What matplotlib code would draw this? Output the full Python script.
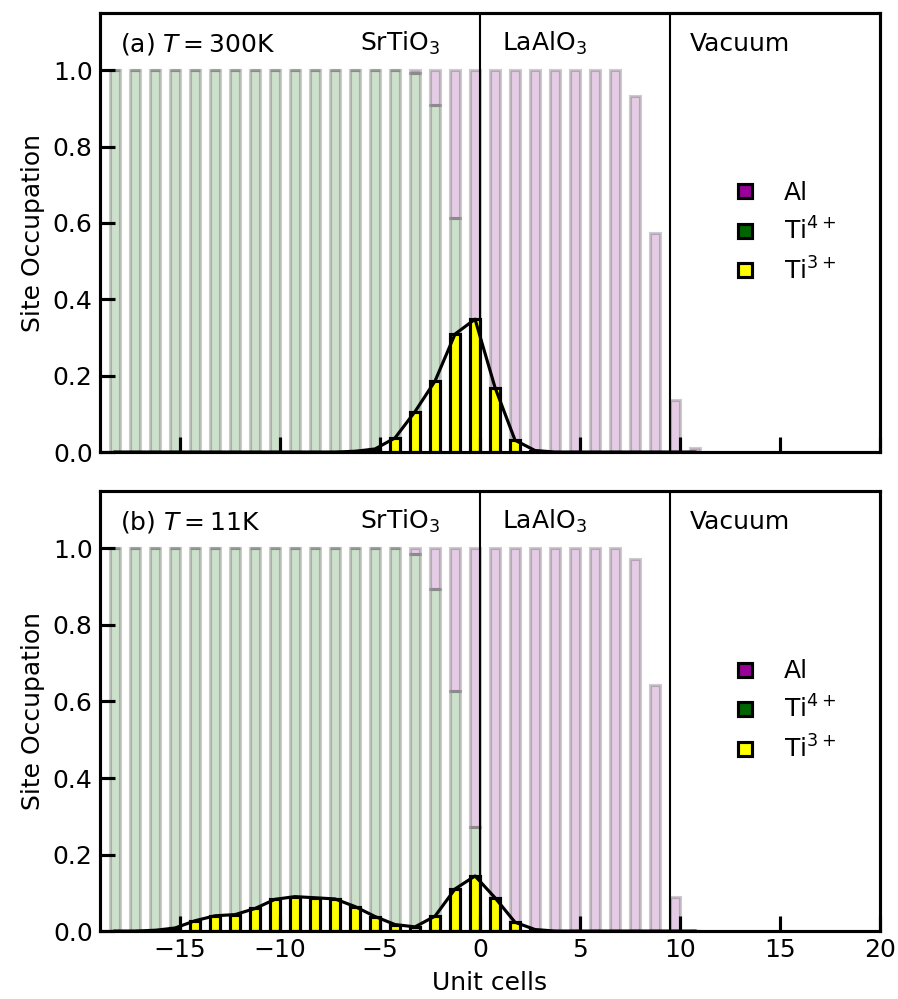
import numpy as np
import matplotlib.pyplot as plt

# unit cell index, bars are drawn at i - 0.25
cells = np.arange(-18, 12)

# (a) T = 300K
ti_a = [1.0]*15 + [0.992, 0.908, 0.613, 0.226, 0.037] + [0.0]*10
tot_a = [1.0]*26 + [0.932, 0.575, 0.136, 0.01]
ti3_a = [0.0]*12 + [0.002, 0.008, 0.037, 0.106, 0.186, 0.309, 0.348, 0.169, 0.031, 0.004] + [0.0]*8

# (b) T = 11K
ti_b = [1.0]*15 + [0.985, 0.894, 0.627, 0.271, 0.062] + [0.0]*10
tot_b = [1.0]*26 + [0.972, 0.643, 0.09, 0.0]
ti3_b = [0.0, 0.0, 0.002, 0.008, 0.027, 0.040, 0.043, 0.059, 0.083, 0.090, 0.087, 0.084,
         0.064, 0.038, 0.017, 0.011, 0.039, 0.110, 0.144, 0.087, 0.023, 0.004] + [0.0]*8

panels = [('(a) $T = 300$K', ti_a, tot_a, ti3_a),
          ('(b) $T = 11$K', ti_b, tot_b, ti3_b)]

plt.rcParams['font.size'] = 12

fig = plt.figure(figsize=(898/150, 999/150), dpi=150)
ax1 = fig.add_axes([0.1114, 0.5475, 0.8686, 0.4395])
ax2 = fig.add_axes([0.1114, 0.068, 0.8686, 0.4405])

x = cells - 0.25
w = 0.5
for ax, (lab, ti, tot, ti3) in zip([ax1, ax2], panels):
    ti = np.array(ti)
    al = np.array(tot) - ti
    ax.bar(x, ti, w, color='darkgreen', alpha=0.2, edgecolor='black', linewidth=1.5)
    ax.bar(x, al, w, bottom=ti, color='purple', alpha=0.2, edgecolor='black', linewidth=1.5)
    ax.bar(x, ti3, w, color='yellow', edgecolor='black', linewidth=1.5)
    ax.plot(x, ti3, color='black', linewidth=1.5)

    ax.axvline(0, color='black', linewidth=1)
    ax.axvline(9.5, color='black', linewidth=1)

    ax.text(-18, 1.05, lab)
    ax.text(-6, 1.05, 'SrTiO$_3$')
    ax.text(1.1, 1.05, 'LaAlO$_3$')
    ax.text(10.5, 1.05, 'Vacuum')

    # legend
    h = [ax.plot([], [], 's', color=c, markeredgecolor='black', markersize=7,
                 markeredgewidth=1.5, label=l)[0]
         for c, l in [('#990099', 'Al'), ('darkgreen', 'Ti$^{4+}$'), ('yellow', 'Ti$^{3+}$')]]
    ax.legend(handles=h, loc='center left', bbox_to_anchor=(0.782, 0.5),
              borderaxespad=0, handletextpad=0.55, frameon=False)

    ax.set_xlim(-19, 20)
    ax.set_ylim(0, 1.15)
    ax.set_yticks([0, 0.2, 0.4, 0.6, 0.8, 1.0])
    ax.set_xticks([-15, -10, -5, 0, 5, 10, 15, 20])
    ax.tick_params(direction='in', width=1.5, length=7)
    for s in ax.spines.values():
        s.set_linewidth(1.5)
    ax.set_ylabel('Site Occupation')

ax1.tick_params(labelbottom=False)
ax2.set_xlabel('Unit cells')

plt.savefig('out.png', dpi=150)
